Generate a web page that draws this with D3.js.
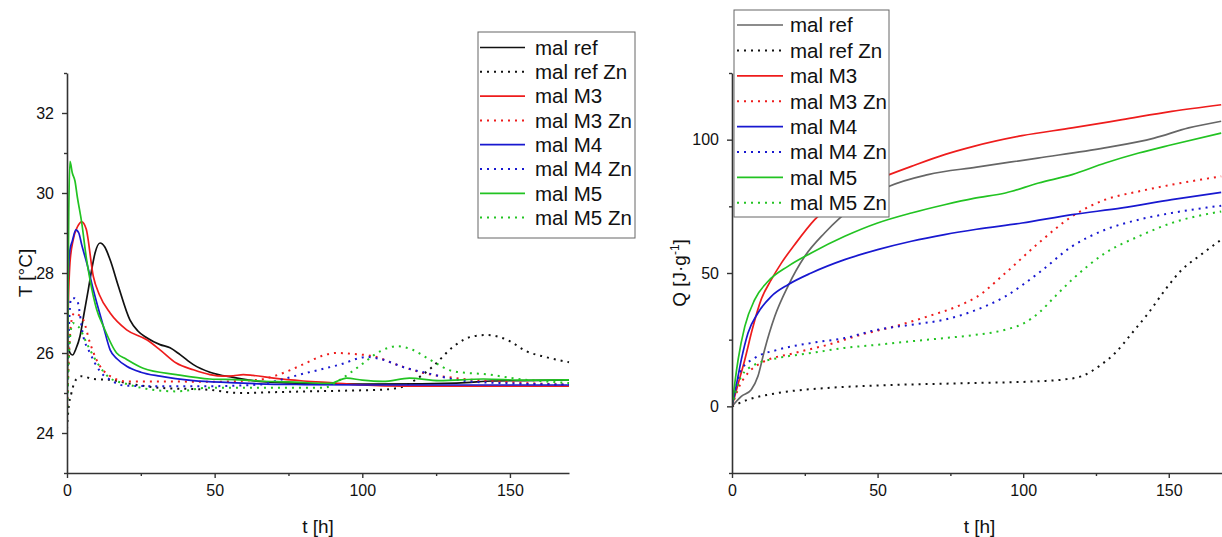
<!DOCTYPE html>
<html>
<head>
<meta charset="utf-8">
<script src="https://cdn.jsdelivr.net/npm/d3@7/dist/d3.min.js"></script>
<style>
  html, body { margin: 0; padding: 0; background: #fff; }
  svg { display: block; font-family: Arial, "Liberation Sans", Helvetica, sans-serif; }
</style>
</head>
<body>
<svg id="chart" width="1222" height="537"></svg>
<script>
// ---------------- DATA ----------------
const seriesNames = ["mal ref", "mal ref Zn", "mal M3", "mal M3 Zn", "mal M4", "mal M4 Zn", "mal M5", "mal M5 Zn"];

const xTicks = [0, 50, 100, 150];
const xMinor = [25, 75, 125];
const tTicks = [24, 26, 28, 30, 32];
const tMinor = [23, 25, 27, 29, 31, 33];
const qTicks = [0, 50, 100];
const qMinor = [-25, 25, 75, 125];

// Left chart: temperature T [°C] vs t [h]  ([t, T])
const T_malRef = [[0,26.8],[0.4,26.2],[1.2,25.98],[1.9,25.95],[3,26.1],[4.4,26.42],[5.8,27.0],[7.2,27.58],[8.4,28.1],[9.5,28.5],[11.2,28.75],[12.8,28.65],[14.6,28.33],[17.4,27.67],[21.3,26.83],[24,26.55],[27,26.38],[31.5,26.21],[34.9,26.13],[38.3,25.96],[42.8,25.71],[48.4,25.52],[56.3,25.39],[65,25.29],[80,25.24],[100,25.22],[120,25.23],[135,25.26],[144,25.3],[155,25.31],[170,25.33]];
const T_malRefZn = [[0,24.1],[0.5,24.6],[1.5,25.0],[3,25.33],[5,25.42],[8.9,25.35],[14.6,25.33],[20,25.25],[31.5,25.13],[48,25.08],[58.6,25.0],[70,25.02],[81,25.04],[95,25.06],[106,25.08],[113,25.14],[118,25.33],[124,25.67],[131,26.17],[137.6,26.42],[142,26.45],[149,26.33],[155.7,26.04],[162,25.9],[170,25.77]];
const T_malM3 = [[0,25.0],[0.4,27.0],[1,28.25],[2.1,28.83],[3.5,29.15],[5,29.28],[6.5,29.1],[8.9,27.92],[11,27.45],[14.6,27.0],[20.2,26.58],[27,26.33],[31.5,26.08],[37,25.75],[42.8,25.58],[48.4,25.46],[53,25.42],[56.3,25.43],[59.7,25.46],[63,25.44],[70,25.37],[80,25.3],[91,25.25],[100,25.2],[115,25.17],[170,25.17]];
const T_malM3Zn = [[0,24.5],[0.7,26.0],[1.5,26.8],[2.5,27.0],[4,26.95],[5.5,26.83],[7.8,26.25],[10,25.83],[14.6,25.42],[20,25.29],[31.5,25.29],[48,25.28],[65,25.33],[70,25.42],[81,25.75],[86,25.92],[91.3,26.0],[98,25.97],[103.7,25.92],[111.6,25.71],[120.7,25.5],[132,25.37],[150,25.27],[170,25.21]];
const T_malM4 = [[0,25.0],[0.3,27.5],[0.6,28.2],[1,28.58],[1.8,28.8],[3,29.08],[4,29.0],[5,28.7],[6.7,28.25],[8.9,27.58],[12.3,26.67],[14.6,26.08],[17,25.85],[20.2,25.67],[25,25.52],[31.5,25.42],[42.8,25.31],[55,25.26],[65,25.23],[80,25.21],[100,25.2],[170,25.2]];
const T_malM4Zn = [[0,24.8],[0.6,26.5],[1.4,27.37],[2.5,27.37],[3.5,27.3],[5.5,26.42],[7.8,26.0],[11.2,25.54],[14.6,25.33],[20,25.18],[31.5,25.17],[48,25.17],[65,25.21],[70,25.29],[81,25.5],[92.4,25.71],[101.5,25.9],[106,25.85],[115,25.62],[121.8,25.5],[132,25.33],[140,25.27],[170,25.21]];
const T_malM5 = [[0,24.2],[0.3,27],[0.6,29.5],[1,30.79],[1.8,30.5],[2.7,30.3],[3.5,29.9],[5,29.25],[6.5,28.4],[7.8,27.83],[10,27.1],[12.3,26.67],[16.8,26.0],[20,25.85],[25.8,25.62],[37,25.46],[48.4,25.35],[58.6,25.33],[65,25.3],[75,25.28],[89,25.24],[94.7,25.37],[100,25.32],[107,25.29],[116,25.37],[126,25.31],[141,25.35],[155,25.32],[170,25.33]];
const T_malM5Zn = [[0,24.3],[0.6,25.8],[1.2,26.5],[2,26.75],[3,26.7],[4.5,26.6],[6,26.35],[7.8,26.08],[11,25.67],[14.6,25.37],[20,25.23],[29,25.08],[37,25.04],[48,25.13],[65,25.13],[87,25.13],[92.4,25.33],[99,25.67],[106,26.04],[111.6,26.17],[117,26.08],[123,25.83],[131,25.54],[143,25.46],[151,25.37],[170,25.25]];

// Right chart: heat Q [J·g⁻¹] vs t [h]  ([t, Q])
const Q_malRef = [[0,0],[3.2,3.75],[6.6,6.25],[8.9,11.25],[11.2,21.25],[14.7,33.75],[19.2,45],[25,56.25],[31.8,65],[37,70.6],[45,77],[54,82.5],[67.3,86.9],[84,89.7],[105,93.1],[128,96.9],[145,100.6],[156.8,104.4],[168,106.9]];
const Q_malRefZn = [[0,0],[5.5,2.5],[15.8,5],[33,6.9],[50,7.8],[83,8.75],[105,9.4],[115,10.2],[120,11.25],[126,15],[131.6,20],[137.4,27.5],[143,35],[148.8,43.75],[154.5,51.25],[160.3,56.25],[168,62.5]];
const Q_malM3 = [[0,0],[2,8],[4.4,17.5],[7,29],[10,40],[13.5,47.5],[17,53.8],[21.5,60.6],[28.4,70],[35,76.5],[45,83],[54,86.9],[61.6,90],[73,94.4],[83,97.5],[99.6,101.5],[116.8,104.4],[134,107.5],[151,110.6],[168,113.1]];
const Q_malM3Zn = [[0,0],[2,6.25],[5.5,12.5],[10,16.25],[21.5,20],[33,23.1],[44.4,26.9],[55.9,30],[67.3,33.75],[78.7,38.1],[84,41],[93.9,50],[105.3,61.25],[116.8,71.25],[128.2,77.5],[139.7,80.6],[151,83.1],[168,86.25]];
const Q_malM4 = [[0,0],[1.5,8],[3.2,17.5],[5.5,27.5],[8.9,35],[13.5,41.25],[19.2,45.6],[27.2,50],[38.7,55],[50,58.75],[61.6,61.9],[73,64.4],[84,66.4],[99.6,68.75],[116.8,71.9],[134,74.4],[151,77.5],[168,80.25]];
const Q_malM4Zn = [[0,0],[3.2,13.75],[7.8,18.1],[15.8,21.25],[27.2,23.75],[38.7,25.6],[50,28.75],[61.6,30.6],[73,32.5],[83,35.8],[93.9,41.25],[105.3,50],[116.8,60],[128.2,66.25],[139.7,70],[151,72.5],[168,75.25]];
const Q_malM5 = [[0,0],[1,9],[2.1,17.5],[4.4,30],[7.8,40],[12.4,46.9],[19.2,52.5],[27.2,57.5],[38.7,63.75],[50,68.75],[61.6,72.5],[73,75.6],[83,78],[93.9,80],[105.3,83.75],[116.8,86.9],[128.2,91.25],[139.7,95],[151,98.1],[168,102.5]];
const Q_malM5Zn = [[0,0],[3.2,11.25],[7.8,15.6],[15.8,18.1],[27.2,20],[38.7,21.9],[50,23.1],[61.6,24.4],[73,25.6],[83,26.7],[93.9,28.75],[100,31],[105.3,35],[111,41.25],[116.8,47.5],[128.2,57.5],[139.7,63.75],[151,68.75],[168,73.1]];

// ---------------- STYLE ----------------
const C_BLACK = "#111111", C_GREY = "#666666", C_RED = "#ee1c1c", C_BLUE = "#1818d0", C_GREEN = "#22c322";
const DOT = "2,5";

const leftSeries = [
  {name: seriesNames[0], data: T_malRef,   color: C_BLACK, dotted: false},
  {name: seriesNames[1], data: T_malRefZn, color: C_BLACK, dotted: true},
  {name: seriesNames[2], data: T_malM3,    color: C_RED,   dotted: false},
  {name: seriesNames[3], data: T_malM3Zn,  color: C_RED,   dotted: true},
  {name: seriesNames[4], data: T_malM4,    color: C_BLUE,  dotted: false},
  {name: seriesNames[5], data: T_malM4Zn,  color: C_BLUE,  dotted: true},
  {name: seriesNames[6], data: T_malM5,    color: C_GREEN, dotted: false},
  {name: seriesNames[7], data: T_malM5Zn,  color: C_GREEN, dotted: true}
];
const rightSeries = [
  {name: seriesNames[0], data: Q_malRef,   color: C_GREY,  dotted: false},
  {name: seriesNames[1], data: Q_malRefZn, color: C_BLACK, dotted: true},
  {name: seriesNames[2], data: Q_malM3,    color: C_RED,   dotted: false},
  {name: seriesNames[3], data: Q_malM3Zn,  color: C_RED,   dotted: true},
  {name: seriesNames[4], data: Q_malM4,    color: C_BLUE,  dotted: false},
  {name: seriesNames[5], data: Q_malM4Zn,  color: C_BLUE,  dotted: true},
  {name: seriesNames[6], data: Q_malM5,    color: C_GREEN, dotted: false},
  {name: seriesNames[7], data: Q_malM5Zn,  color: C_GREEN, dotted: true}
];

const svg = d3.select("#chart");
const AXIS_COLOR = "#333";

function drawPanel(cfg) {
  const x = d3.scaleLinear().domain([0, 170]).range([cfg.x0, cfg.x1]);
  const y = d3.scaleLinear().domain(cfg.yDomain).range([cfg.yBottom, cfg.yTop]);
  const g = svg.append("g");

  const clipId = "clip" + cfg.id;
  svg.append("defs").append("clipPath").attr("id", clipId)
    .append("rect").attr("x", cfg.x0).attr("y", cfg.yTop)
    .attr("width", cfg.x1 - cfg.x0 + 10).attr("height", cfg.yBottom - cfg.yTop);

  // lines
  const line = d3.line().x(d => x(d[0])).y(d => y(d[1])).curve(d3.curveMonotoneX);
  const lg = g.append("g").attr("clip-path", `url(#${clipId})`);
  cfg.series.forEach(s => {
    lg.append("path").attr("d", line(s.data)).attr("fill", "none")
      .attr("stroke", s.color)
      .attr("stroke-width", s.dotted ? 2 : 1.7)
      .attr("stroke-dasharray", s.dotted ? DOT : null);
  });

  // axes
  g.append("g").attr("transform", `translate(0,${cfg.yBottom})`)
    .call(d3.axisBottom(x).tickValues(xTicks).tickSize(5).tickSizeOuter(0).tickPadding(7));
  g.append("g").attr("transform", `translate(0,${cfg.yBottom})`)
    .call(d3.axisBottom(x).tickValues(xMinor).tickSize(3).tickSizeOuter(0).tickFormat(""))
    .call(a => a.select(".domain").remove());
  g.append("g").attr("transform", `translate(${cfg.x0},0)`)
    .call(d3.axisLeft(y).tickValues(cfg.yTicks).tickSize(5).tickSizeOuter(0).tickPadding(8));
  g.append("g").attr("transform", `translate(${cfg.x0},0)`)
    .call(d3.axisLeft(y).tickValues(cfg.yMinor).tickSize(3).tickSizeOuter(0).tickFormat(""))
    .call(a => a.select(".domain").remove());

  g.selectAll(".domain").attr("stroke", AXIS_COLOR).attr("stroke-width", 1.6);
  g.selectAll(".tick line").attr("stroke", AXIS_COLOR).attr("stroke-width", 1.4);
  g.selectAll(".tick text").attr("fill", "#111").style("font-size", "16px")
    .style("font-family", "Arial, 'Liberation Sans', sans-serif");

  // axis titles
  g.append("text").attr("x", (cfg.x0 + cfg.x1) / 2).attr("y", 533)
    .attr("text-anchor", "middle").style("font-size", "19px").attr("fill", "#111")
    .text("t [h]");
  const yt = g.append("text")
    .attr("transform", `translate(${cfg.yTitleX},${(cfg.yTop + cfg.yBottom) / 2}) rotate(-90)`)
    .attr("text-anchor", "middle").style("font-size", "19px").attr("fill", "#111");
  cfg.yTitle(yt);

  // legend
  const L = cfg.legend;
  const lgd = g.append("g");
  lgd.append("rect").attr("x", L.x).attr("y", L.y).attr("width", L.w).attr("height", L.h)
    .attr("fill", "#fff").attr("stroke", "#666").attr("stroke-width", 1);
  cfg.series.forEach((s, i) => {
    const ry = L.firstRow + i * L.step;
    lgd.append("line").attr("x1", L.lx1).attr("x2", L.lx2).attr("y1", ry).attr("y2", ry)
      .attr("stroke", s.color).attr("stroke-width", s.dotted ? 2 : 1.7)
      .attr("stroke-dasharray", s.dotted ? DOT : null);
    lgd.append("text").attr("x", L.tx).attr("y", ry + L.fs * 0.36)
      .style("font-size", L.fs + "px").attr("fill", "#111").text(s.name);
  });
}

drawPanel({
  id: "L", x0: 67, x1: 569, yTop: 73, yBottom: 473, yDomain: [23, 33],
  yTicks: tTicks, yMinor: tMinor, series: leftSeries, yTitleX: 32,
  yTitle: t => t.text("T [°C]"),
  legend: {x: 478, y: 32, w: 157, h: 206, firstRow: 47.5, step: 24.3, lx1: 480, lx2: 525, tx: 535, fs: 20.5}
});

drawPanel({
  id: "R", x0: 732, x1: 1227, yTop: 73, yBottom: 473, yDomain: [-25, 125],
  yTicks: qTicks, yMinor: qMinor, series: rightSeries, yTitleX: 686,
  yTitle: t => {
    t.append("tspan").text("Q [J·g");
    t.append("tspan").attr("dy", -7).style("font-size", "12px").text("-1");
    t.append("tspan").attr("dy", 7).text("]");
  },
  legend: {x: 734, y: 10, w: 155, h: 207, firstRow: 25, step: 25.4, lx1: 737, lx2: 783, tx: 790, fs: 20.5}
});
</script>
</body>
</html>
